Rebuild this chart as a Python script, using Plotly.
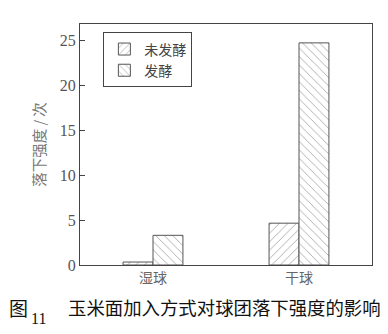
import plotly.graph_objects as go

categories = ["湿球", "干球"]
unfermented = [0.33, 4.65]
fermented = [3.3, 24.7]
series_names = ["未发酵", "发酵"]
y_ticks = [0, 5, 10, 15, 20, 25]

serif = "Liberation Serif, DejaVu Serif, serif"
cjk = "Noto Sans CJK SC"

fig = go.Figure()
fig.add_trace(go.Bar(
    x=categories, y=unfermented, name=series_names[0],
    marker=dict(color="white", line=dict(color="#555", width=1),
                pattern=dict(shape="/", size=6, solidity=0.15, fgcolor="#555", bgcolor="white")),
))
fig.add_trace(go.Bar(
    x=categories, y=fermented, name=series_names[1],
    marker=dict(color="white", line=dict(color="#555", width=1),
                pattern=dict(shape="\\", size=6, solidity=0.15, fgcolor="#555", bgcolor="white")),
))

fig.update_layout(
    width=388, height=334,
    margin=dict(l=80, r=16, t=24, b=69),
    paper_bgcolor="white", plot_bgcolor="white",
    barmode="group", bargap=0.59, bargroupgap=0,
    showlegend=True,
    legend=dict(x=0.08, y=0.965, xanchor="left", yanchor="top",
                bordercolor="#444", borderwidth=1, bgcolor="white",
                font=dict(family=cjk, size=14, color="#444"),
                tracegroupgap=0, itemwidth=30),
    xaxis=dict(showline=True, linecolor="#444", linewidth=1, mirror=True,
               ticks="", showgrid=False,
               tickfont=dict(family=cjk, size=14, color="#666")),
    yaxis=dict(range=[0, 26.8], tickvals=y_ticks, showline=True, linecolor="#444",
               linewidth=1, mirror=True, ticks="inside", ticklen=5, tickcolor="#444",
               showgrid=False, zeroline=False,
               tickfont=dict(family=serif, size=16, color="#555"),
               title=dict(text="落下强度 / 次", font=dict(family=cjk, size=14.5, color="#777"),
                          standoff=10)),
)
fig.update_yaxes(tickprefix="<b>", ticksuffix="</b>")

fig.add_annotation(text="图", xref="paper", yref="paper",
                   x=(7 - 80) / 292, y=(265 - 307) / 241, xanchor="left", yanchor="middle",
                   showarrow=False, font=dict(family=cjk, size=19, color="#111"))
fig.add_annotation(text="11", xref="paper", yref="paper",
                   x=(29 - 80) / 292, y=(265 - 318) / 241, xanchor="left", yanchor="middle",
                   showarrow=False, font=dict(family=serif, size=16, color="#111"))
fig.add_annotation(text="玉米面加入方式对球团落下强度的影响", xref="paper", yref="paper",
                   x=(66 - 80) / 292, y=(265 - 307) / 241, xanchor="left", yanchor="middle",
                   showarrow=False, font=dict(family=cjk, size=18.4, color="#111"))

fig.write_html("out.html")
